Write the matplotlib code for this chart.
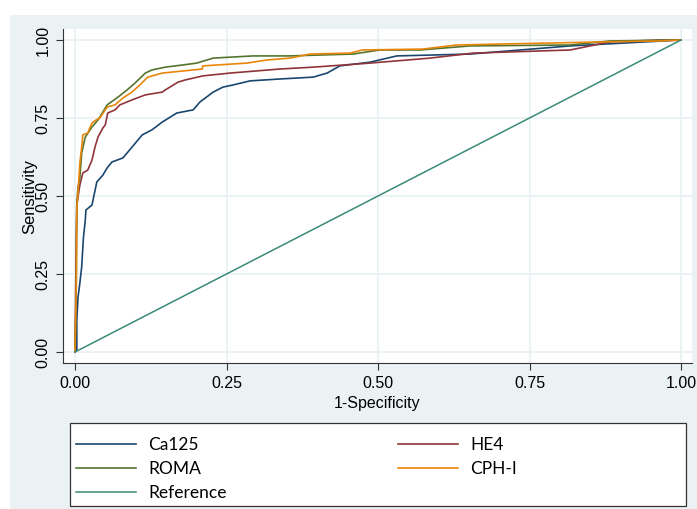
import matplotlib
matplotlib.use('Agg')
import matplotlib.pyplot as plt
from matplotlib.patches import Rectangle
from matplotlib import rcParams

rcParams['font.family'] = ['Liberation Sans', 'DejaVu Sans']

# ROC points (1-specificity, sensitivity)
ca125_x = [0, 0.003, 0.003, 0.005, 0.008, 0.011, 0.014, 0.017, 0.018, 0.028, 0.036, 0.046,
           0.053, 0.061, 0.079, 0.086, 0.111, 0.127, 0.144, 0.168, 0.195, 0.206, 0.228,
           0.244, 0.261, 0.289, 0.338, 0.393, 0.416, 0.437, 0.487, 0.531, 0.652, 0.817, 1.0]
ca125_y = [0, 0.006, 0.103, 0.176, 0.221, 0.272, 0.369, 0.423, 0.455, 0.471, 0.545, 0.567,
           0.590, 0.609, 0.622, 0.638, 0.696, 0.712, 0.737, 0.766, 0.776, 0.801, 0.833,
           0.849, 0.856, 0.869, 0.875, 0.881, 0.894, 0.917, 0.929, 0.949, 0.955, 0.981, 1.0]

he4_x = [0, 0.002, 0.003, 0.005, 0.008, 0.013, 0.021, 0.028, 0.033, 0.038, 0.046, 0.050,
         0.054, 0.066, 0.074, 0.094, 0.116, 0.144, 0.149, 0.170, 0.182, 0.211, 0.256,
         0.338, 0.393, 0.487, 0.586, 0.657, 0.817, 0.883, 0.965, 1.0]
he4_y = [0, 0.36, 0.47, 0.497, 0.535, 0.574, 0.583, 0.615, 0.657, 0.689, 0.718, 0.728,
         0.766, 0.776, 0.792, 0.808, 0.824, 0.833, 0.840, 0.865, 0.872, 0.885, 0.894,
         0.907, 0.913, 0.926, 0.942, 0.958, 0.968, 0.994, 1.0, 1.0]

roma_x = [0, 0.002, 0.003, 0.005, 0.008, 0.011, 0.017, 0.028, 0.038, 0.045, 0.053, 0.071,
          0.086, 0.099, 0.116, 0.127, 0.149, 0.178, 0.201, 0.228, 0.294, 0.355, 0.459,
          0.503, 0.569, 0.652, 0.817, 0.883, 1.0]
roma_y = [0, 0.199, 0.478, 0.529, 0.558, 0.638, 0.689, 0.721, 0.744, 0.766, 0.792, 0.817,
          0.840, 0.862, 0.894, 0.904, 0.913, 0.920, 0.926, 0.942, 0.949, 0.949, 0.955,
          0.968, 0.968, 0.981, 0.984, 0.997, 1.0]

cph_x = [0, 0.002, 0.003, 0.005, 0.008, 0.011, 0.013, 0.021, 0.028, 0.035, 0.041, 0.053,
         0.066, 0.079, 0.094, 0.107, 0.120, 0.144, 0.210, 0.211, 0.284, 0.317, 0.355,
         0.388, 0.454, 0.474, 0.574, 0.630, 0.871, 0.965, 1.0]
cph_y = [0, 0.199, 0.465, 0.510, 0.606, 0.657, 0.696, 0.702, 0.734, 0.744, 0.750, 0.785,
         0.792, 0.814, 0.833, 0.856, 0.881, 0.894, 0.907, 0.917, 0.926, 0.936, 0.942,
         0.955, 0.958, 0.968, 0.971, 0.984, 0.994, 0.997, 1.0]

ref_x = [0, 1]
ref_y = [0, 1]

ticks = [0, 0.25, 0.5, 0.75, 1.0]
tick_labels = ['0.00', '0.25', '0.50', '0.75', '1.00']

W, H = 697, 509
fig = plt.figure(figsize=(W / 100, H / 100), dpi=100, facecolor='white')

# Stata-like light panel behind everything
fig.patches.append(Rectangle((10 / W, 0), 1 - 10 / W, 1 - 15 / H, transform=fig.transFigure,
                             facecolor='#eaf2f3', edgecolor='none', zorder=-10))

ax = fig.add_axes([63 / W, (H - 363) / H, (692 - 63) / W, (363 - 29) / H])
ax.set_facecolor('white')

l1, = ax.plot(ca125_x, ca125_y, color='#1a476f', lw=1.2, label='Ca125')
l2, = ax.plot(he4_x, he4_y, color='#90353b', lw=1.2, label='HE4')
l3, = ax.plot(roma_x, roma_y, color='#55752f', lw=1.2, label='ROMA')
l4, = ax.plot(cph_x, cph_y, color='#e8860c', lw=1.2, label='CPH-I')
l5, = ax.plot(ref_x, ref_y, color='#3a8a78', lw=1.1, label='Reference')

ax.set_xlim(-12 / 606, 1 + 11 / 606)
ax.set_ylim(-11 / 312, 1 + 11 / 312)
ax.set_xticks(ticks)
ax.set_xticklabels(tick_labels)
ax.set_yticks(ticks)
ax.set_yticklabels(tick_labels, rotation=90, va='center')
ax.tick_params(labelsize=11.5, length=5, width=0.8, color='#333333', pad=4)
ax.grid(color='#eaf2f3', linewidth=1.3)
ax.set_axisbelow(True)
for s in ['top', 'right']:
    ax.spines[s].set_visible(False)
for s in ['left', 'bottom']:
    ax.spines[s].set_color('#333333')
    ax.spines[s].set_linewidth(0.8)

ax.set_xlabel('1-Specificity', fontsize=11.5, labelpad=4)
ax.set_ylabel('Sensitivity', fontsize=12)
ax.yaxis.set_label_coords((37 - 63) / 629, 0.5)

# legend box
fig.patches.append(Rectangle((70 / W, 3 / H), 616 / W, 83 / H, transform=fig.transFigure,
                             facecolor='white', edgecolor='#333333', lw=0.9, zorder=5))
leg = fig.legend([l1, l3, l5, l2, l4], ['Ca125', 'ROMA', 'Reference', 'HE4', 'CPH-I'],
                 ncol=2, loc='upper left', bbox_to_anchor=(76 / W, (H - 437) / H),
                 frameon=False, handlelength=3.45, handletextpad=0.7, columnspacing=9.9,
                 labelspacing=0.46, borderpad=0, borderaxespad=0,
                 prop={'family': 'Lato', 'size': 12.5})
leg.set_zorder(6)

fig.savefig('out.png', dpi=100, facecolor='white')
